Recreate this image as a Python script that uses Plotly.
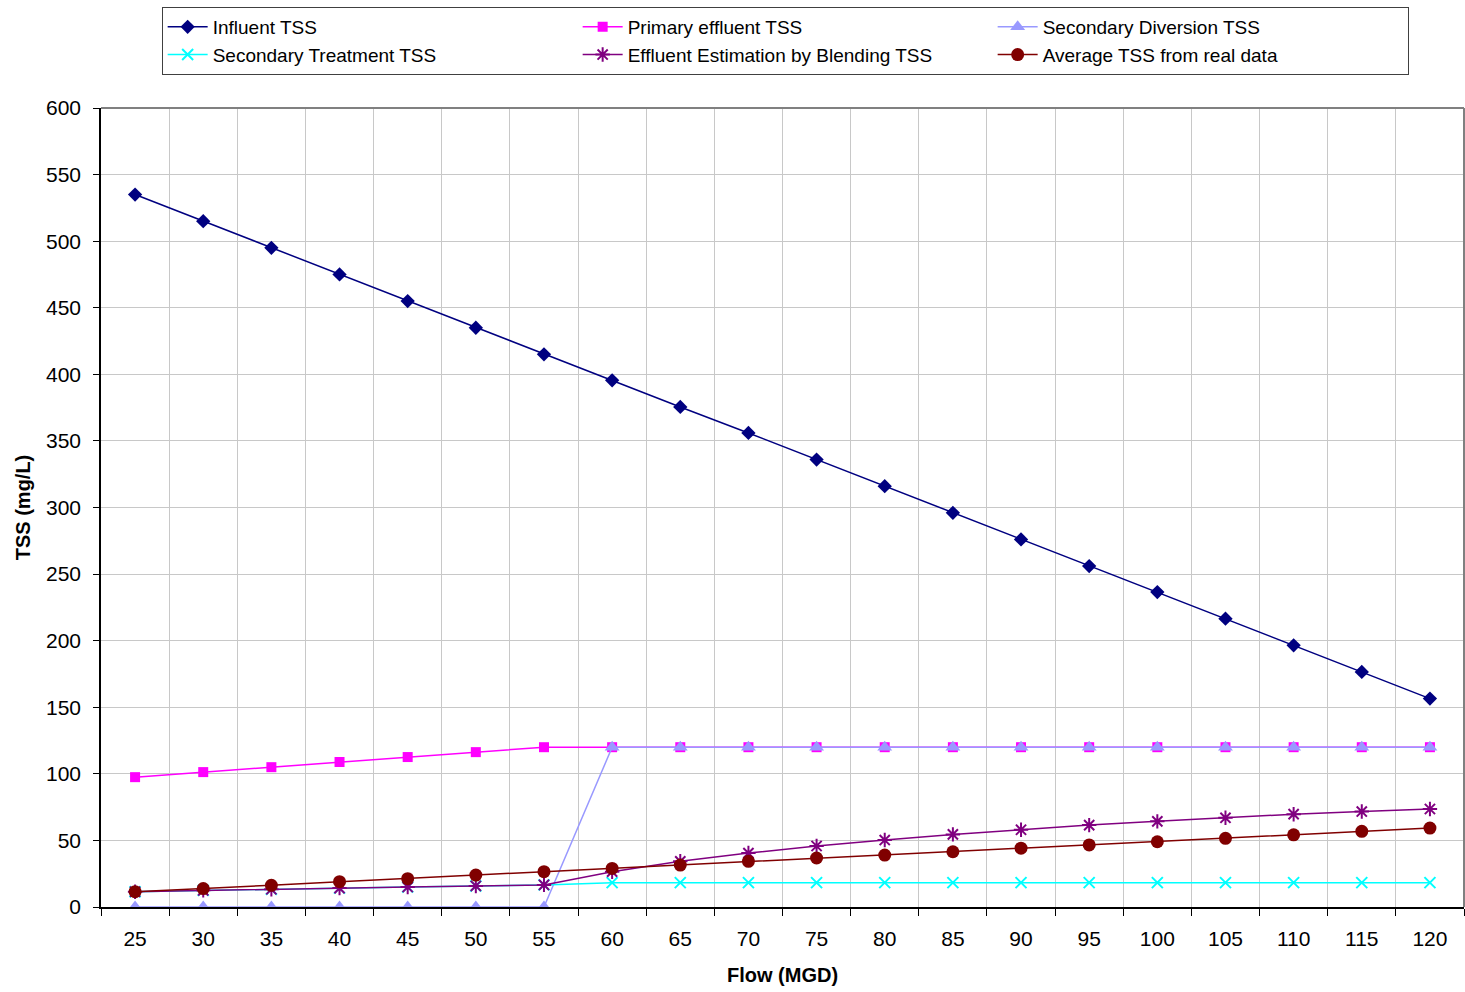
import plotly.graph_objects as go

# Flow rates (MGD) and TSS concentrations (mg/L)
flow = [25, 30, 35, 40, 45, 50, 55, 60, 65, 70, 75, 80, 85, 90, 95, 100, 105, 110, 115, 120]

influent_tss = [535, 515, 495, 475, 455, 435, 415, 395.5, 375.5, 356, 336, 316,
                296, 276, 256, 236.5, 216.5, 196.5, 176.5, 156.5]
primary_effluent_tss = [97.5, 101.3, 105, 108.9, 112.6, 116.3, 120, 120, 120, 120,
                        120, 120, 120, 120, 120, 120, 120, 120, 120, 120]
secondary_diversion_tss = [0, 0, 0, 0, 0, 0, 0, 120, 120, 120, 120, 120, 120, 120,
                           120, 120, 120, 120, 120, 120]
secondary_treatment_tss = [11.5, 12.5, 13.3, 14.2, 15, 15.8, 16.6, 18.3, 18.3, 18.3,
                           18.3, 18.3, 18.3, 18.3, 18.3, 18.3, 18.3, 18.3, 18.3, 18.3]
blending_tss = [11.5, 12.5, 13.3, 14.2, 15, 15.8, 16.6, 26.5, 34.3, 40.5, 45.8, 50.3,
                54.5, 58, 61.5, 64.3, 67, 69.7, 71.7, 73.6]
average_real_tss = [11.5, 13.8, 16.3, 19, 21.3, 24, 26.5, 29, 31.5, 34.3, 36.8, 39,
                    41.5, 44.2, 46.6, 49, 51.6, 54.2, 56.8, 59.3]

y_ticks = list(range(0, 601, 50))

cats = [str(f) for f in flow]

series = [
    ("Influent TSS", influent_tss, "#000080", dict(symbol="diamond", size=11)),
    ("Primary effluent TSS", primary_effluent_tss, "#FF00FF", dict(symbol="square", size=10)),
    ("Secondary Diversion TSS", secondary_diversion_tss, "#9999FF", dict(symbol="triangle-up", size=13)),
    ("Secondary Treatment TSS", secondary_treatment_tss, "#00FFFF",
     dict(symbol="x-thin-open", size=11, line=dict(width=2, color="#00FFFF"))),
    ("Effluent Estimation by Blending TSS", blending_tss, "#800080",
     dict(symbol="asterisk-open", size=12, line=dict(width=2, color="#800080"))),
    ("Average TSS from real data", average_real_tss, "#800000", dict(symbol="circle", size=13)),
]

fig = go.Figure()
for name, vals, color, marker in series:
    fig.add_trace(go.Scatter(
        x=cats, y=vals, name=name, mode="lines+markers",
        line=dict(color=color, width=1.5),
        marker=dict(color=color, **marker),
    ))

fig.update_layout(
    width=1465, height=992,
    margin=dict(l=101, r=1, t=108, b=85),
    paper_bgcolor="white", plot_bgcolor="white",
    font=dict(family="Liberation Sans, Arial, sans-serif", size=20, color="black"),
    showlegend=True,
    legend=dict(
        orientation="h", x=0.0445, xanchor="left", y=1.1264, yanchor="top",
        entrywidth=360, entrywidthmode="pixels", itemwidth=40,
        bordercolor="#404040", borderwidth=1, bgcolor="white",
        font=dict(size=19), tracegroupgap=0,
    ),
    xaxis=dict(
        type="category", tickson="boundaries", range=[-0.5, 19.5],
        showgrid=True, gridcolor="#C8C8C8", gridwidth=1,
        showline=True, linecolor="black", linewidth=1.5,
        ticks="outside", ticklen=7, tickcolor="black",
        tickfont=dict(size=21), ticklabelstandoff=12,
        title=dict(text="<b>Flow (MGD)</b>", font=dict(size=20), standoff=19),
    ),
    yaxis=dict(
        range=[0, 600], tickvals=y_ticks,
        showgrid=True, gridcolor="#C8C8C8", gridwidth=1,
        showline=True, linecolor="black", linewidth=1.5,
        ticks="outside", ticklen=6, tickcolor="black",
        tickfont=dict(size=21), ticklabelstandoff=8, zeroline=False,
        title=dict(text="<b>TSS (mg/L)</b>", font=dict(size=20), standoff=10),
    ),
    shapes=[
        dict(type="line", xref="paper", yref="paper", x0=0, x1=1, y0=1, y1=1,
             line=dict(color="#808080", width=2), layer="above"),
        dict(type="line", xref="paper", yref="paper", x0=1, x1=1, y0=0, y1=1,
             line=dict(color="#808080", width=2), layer="above"),
    ],
)

fig.write_html("out.html")
